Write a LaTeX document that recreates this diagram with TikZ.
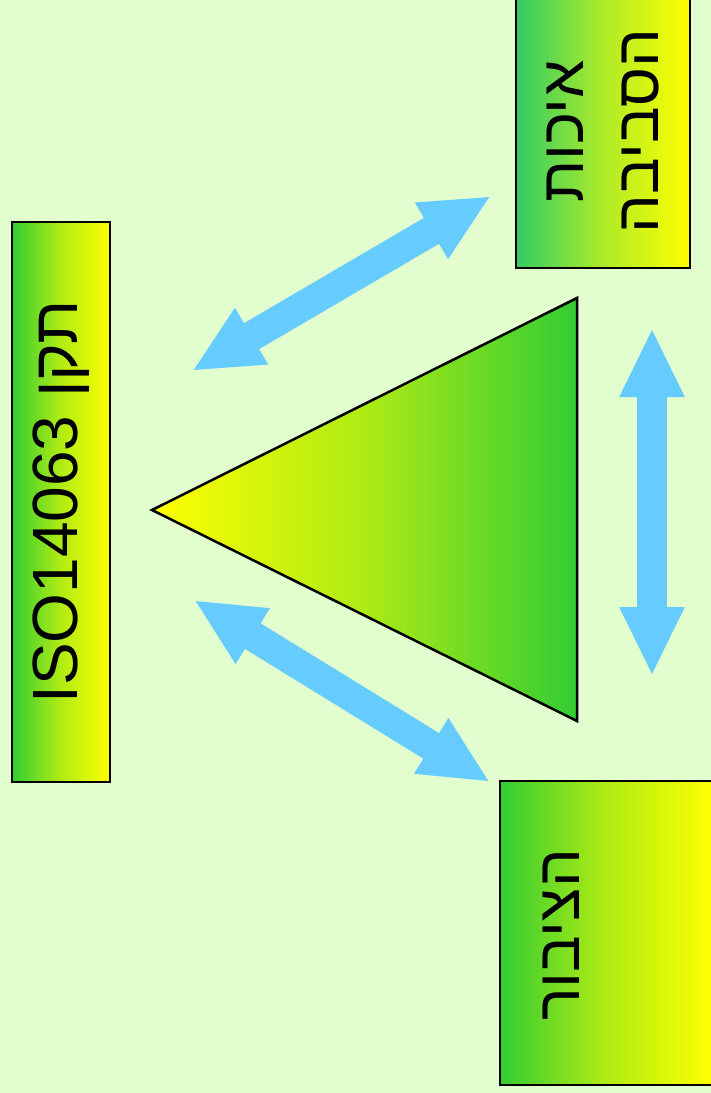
\documentclass[tikz,border=0pt]{standalone}
\usepackage{fontspec}
\setmainfont{Liberation Sans}
\newfontfamily\hebfont[Script=Hebrew]{Liberation Sans}
\TeXXeTstate=1
\usetikzlibrary{arrows.meta, positioning}
\definecolor{bgcol}{HTML}{E2FDCE}
\definecolor{leafgreen}{HTML}{33CC33}
\definecolor{seagreen}{HTML}{33CC66}
\definecolor{sunyellow}{HTML}{FFFF00}
\definecolor{skyblue}{HTML}{66CCFF}

\begin{document}
\begin{tikzpicture}[line join=miter,x=1pt,y=-1pt,
  board/.style={draw=black, line width=2pt, rotate=90, inner sep=0pt, left color=leafgreen, right color=sunyellow, middle color=leafgreen!38!sunyellow, font=\hebfont\fontsize{61}{75}\selectfont, align=center},
  link/.style={skyblue, line width=30pt, {Triangle[length=69pt,width=60pt]}-{Triangle[length=69pt,width=60pt]}}]
% Background
\fill [bgcol] (0,0) rectangle (711,1093);
\useasboundingbox (0,0) rectangle (711,1093);

% Boxes
\node [board, minimum width=560pt, minimum height=98pt, font=\hebfont\fontsize{64}{76}\selectfont] (iso) at (61,502) {\beginR תקן \beginL ISO14063\endL\endR};
\node [board, left color=seagreen, right color=sunyellow, middle color=seagreen!40!sunyellow, minimum width=273pt, minimum height=174pt] (env) at (603,131.5) {\beginR איכות\endR\\\beginR הסביבה\endR};
\node [board, minimum width=304pt, minimum height=213pt] (public) at (606.5,933) {};
\node [rotate=90, inner sep=0pt, font=\hebfont\fontsize{61}{75}\selectfont] (publiclabel) at (561,935) {\beginR הציבור\endR};

% Triangle
\coordinate (T1) at (152,510);
\coordinate (T2) at (577,298);
\coordinate (T3) at (577,721);
\shade [left color=sunyellow, right color=leafgreen, middle color=leafgreen!40!sunyellow] (T1) -- (T2) -- (T3) -- cycle;
\draw [line width=2.5pt] (T1) -- (T2) -- (T3) -- cycle;

% Arrows
\coordinate (a1) at (192,371);
\coordinate (b1) at (491,196);
\coordinate (a2) at (194,600);
\coordinate (b2) at (490,782);
\coordinate (a3) at (652,328);
\coordinate (b3) at (652,676);
\foreach \i in {1,2,3}
\draw [link] (a\i) -- (b\i);
\end{tikzpicture}
\end{document}
